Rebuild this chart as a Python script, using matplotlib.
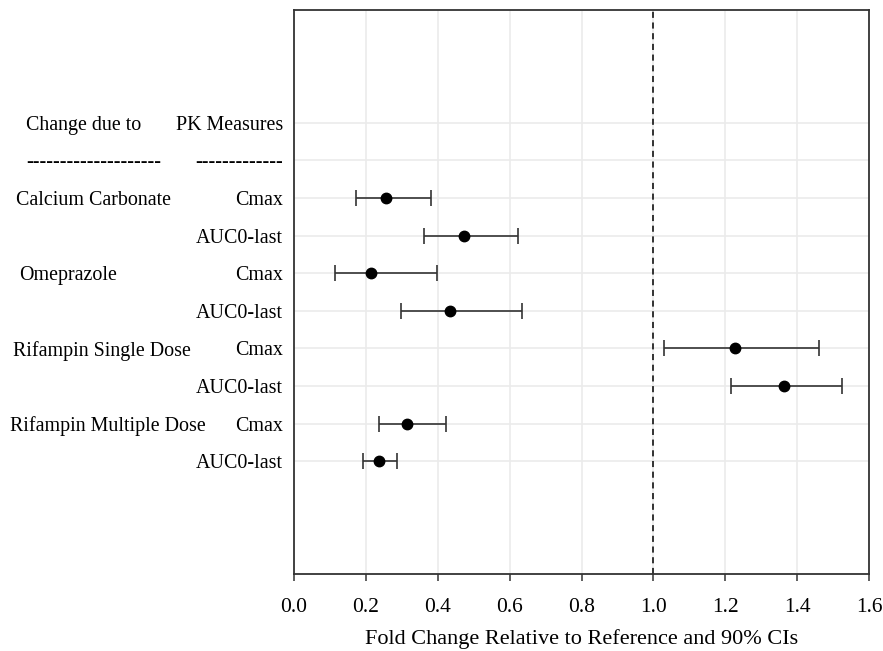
import matplotlib.pyplot as plt
from matplotlib.transforms import blended_transform_factory

# data
groups = ["Calcium Carbonate", "Omeprazole", "Rifampin Single Dose", "Rifampin Multiple Dose"]
measures = ["Cmax", "AUC0-last"] * 4
fold_change = [0.256, 0.472, 0.213, 0.435, 1.228, 1.363, 0.315, 0.236]
ci_lower = [0.172, 0.362, 0.114, 0.298, 1.029, 1.216, 0.237, 0.191]
ci_upper = [0.381, 0.622, 0.397, 0.634, 1.461, 1.526, 0.423, 0.287]
x_ticks = [0.0, 0.2, 0.4, 0.6, 0.8, 1.0, 1.2, 1.4, 1.6]

plt.rcParams['font.family'] = ['Liberation Serif', 'DejaVu Serif']
FS = 14.4

fig = plt.figure(figsize=(8.83, 6.51), dpi=100)
ax = fig.add_axes([294 / 883, 1 - 574 / 651, 575 / 883, 564 / 651])

# row 0 = header, row 1 = dashes, rows 2.. = data
rows = list(range(2, 2 + len(fold_change)))
ytick_labels = ["PK Measures", "-" * 13] + measures

for r in range(len(ytick_labels)):
    ax.axhline(r, color='#ebebeb', lw=1.2, zorder=0)
for x in x_ticks:
    ax.axvline(x, color='#ebebeb', lw=1.2, zorder=0)

err_lo = [f - lo for f, lo in zip(fold_change, ci_lower)]
err_hi = [hi - f for f, hi in zip(fold_change, ci_upper)]
ax.errorbar(fold_change, rows, xerr=[err_lo, err_hi], fmt='o', color='black',
            ecolor='#333333', elinewidth=1.2, capsize=5.5, capthick=1.2,
            markersize=7.5, zorder=3)

ax.axvline(1.0, color='black', ls=(0, (4, 3)), lw=1.1, zorder=2)

ax.set_xlim(0, 1.6)
ax.set_ylim(12, -3)
ax.set_xticks(x_ticks)
ax.set_xticklabels([f"{x:.1f}" for x in x_ticks])
ax.set_yticks(range(len(ytick_labels)))
ax.set_yticklabels(ytick_labels)
for lab in ax.get_yticklabels():
    lab.set_verticalalignment('center_baseline')
ax.tick_params(axis='y', length=0, pad=8, labelsize=FS)
ax.tick_params(axis='x', length=5, width=1.1, color='#333333', labelsize=15.5, pad=12)
for s in ax.spines.values():
    s.set_color('#333333')
    s.set_linewidth(1.3)

ax.set_xlabel("Fold Change Relative to Reference and 90% CIs", fontsize=16, labelpad=9)

# left column: what caused the change
trans = blended_transform_factory(fig.transFigure, ax.transData)
ax.text(26 / 883, 0, "Change due to", transform=trans, ha='left', va='center_baseline', fontsize=FS)
ax.text(26 / 883, 1, "-" * 20, transform=trans, ha='left', va='center_baseline', fontsize=FS)
group_left_px = [16, 19, 13, 10]
for i, g in enumerate(groups):
    ax.text(group_left_px[i] / 883, 2 + 2 * i, g, transform=trans, ha='left',
            va='center_baseline', fontsize=FS)

fig.savefig("out.png", dpi=100)
